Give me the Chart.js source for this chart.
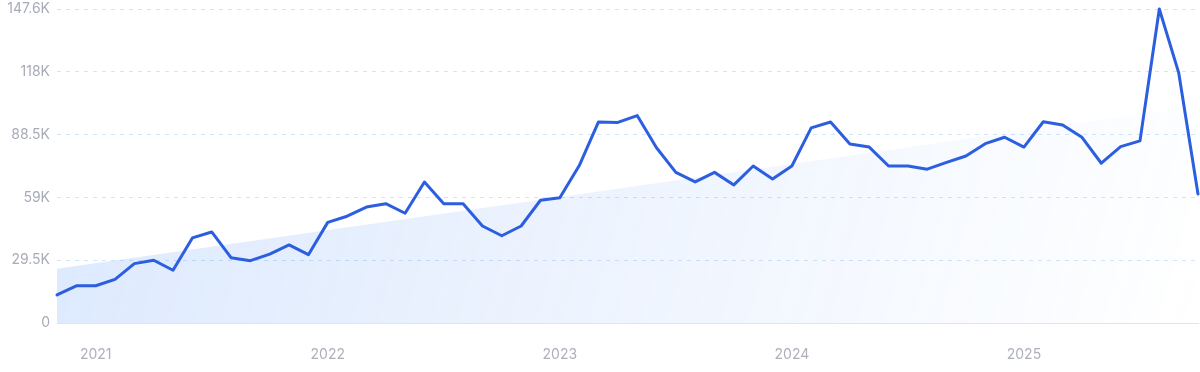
<!DOCTYPE html>
<html>
<head>
<meta charset="utf-8">
<script src="https://cdn.jsdelivr.net/npm/chart.js@4.4.0/dist/chart.umd.min.js"></script>
<style>
    body { margin: 0; background: #fff; }
    #wrap { width: 1200px; height: 372px; position: relative; }
</style>
</head>
<body>
<div id="wrap"><canvas id="trendChart"></canvas></div>
<script>
// --- DATOS ---
const months = [
    '2020-11', '2020-12',
    '2021-01', '2021-02', '2021-03', '2021-04', '2021-05', '2021-06', '2021-07', '2021-08', '2021-09', '2021-10', '2021-11', '2021-12',
    '2022-01', '2022-02', '2022-03', '2022-04', '2022-05', '2022-06', '2022-07', '2022-08', '2022-09', '2022-10', '2022-11', '2022-12',
    '2023-01', '2023-02', '2023-03', '2023-04', '2023-05', '2023-06', '2023-07', '2023-08', '2023-09', '2023-10', '2023-11', '2023-12',
    '2024-01', '2024-02', '2024-03', '2024-04', '2024-05', '2024-06', '2024-07', '2024-08', '2024-09', '2024-10', '2024-11', '2024-12',
    '2025-01', '2025-02', '2025-03', '2025-04', '2025-05', '2025-06', '2025-07', '2025-08', '2025-09', '2025-10'
];

const searches = [
    13200, 17500, 17500, 20500, 27900, 29500, 24800, 40000, 42800, 30700,
    29300, 32400, 36700, 32100, 47300, 50200, 54500, 56100, 51600, 66300,
    56100, 56100, 45600, 41000, 45600, 57700, 58900, 73900, 94500, 94300,
    97500, 82400, 70800, 66300, 70800, 64900, 73800, 67700, 73800, 91700,
    94500, 84100, 82700, 73800, 73800, 72300, 75500, 78500, 84300, 87300,
    82700, 94600, 93100, 87300, 75100, 82900, 85600, 147600, 117700, 60600
];

// linea de tendencia: solo extremos, el resto se une con spanGaps
const trendStart = 25500;
const trendEnd = 102000;

const yTickLabels = ['0', '29.5K', '59K', '88.5K', '118K', '147.6K'];
const yMax = 147600;
const yStep = 29520;

const trendData = months.map((m, i) => {
    if (i === 0) return trendStart;
    if (i === months.length - 1) return trendEnd;
    return null;
});

const FONT = "Inter, 'Noto Sans', sans-serif";

function trendFill(context) {
    const area = context.chart.chartArea;
    if (!area) return 'rgba(59,130,246,0.12)';
    const g = context.chart.ctx.createLinearGradient(area.left, area.top, area.right, area.bottom);
    g.addColorStop(0, 'rgba(59, 130, 246, 0.18)');
    g.addColorStop(0.6, 'rgba(59, 130, 246, 0.07)');
    g.addColorStop(1, 'rgba(59, 130, 246, 0.0)');
    return g;
}

const ctx = document.getElementById('trendChart').getContext('2d');
new Chart(ctx, {
    type: 'line',
    data: {
        labels: months,
        datasets: [
            {
                label: 'Búsquedas',
                data: searches,
                borderColor: '#2c5ee0',
                borderWidth: 3,
                borderJoinStyle: 'round',
                borderCapStyle: 'round',
                tension: 0,
                pointRadius: 0,
                fill: false,
                clip: false,
                order: 0
            },
            {
                label: 'Tendencia',
                data: trendData,
                spanGaps: true,
                borderWidth: 0,
                borderColor: 'rgba(0,0,0,0)',
                backgroundColor: trendFill,
                fill: 'origin',
                pointRadius: 0,
                tension: 0,
                order: 1
            }
        ]
    },
    options: {
        responsive: true,
        maintainAspectRatio: false,
        animation: false,
        layout: { padding: { top: 9, right: 2, left: 0, bottom: 0 } },
        plugins: {
            legend: { display: false },
            tooltip: { enabled: false }
        },
        scales: {
            x: {
                offset: false,
                grid: { display: false, drawTicks: false },
                border: { display: true, color: '#dfe4ee', width: 1 },
                ticks: {
                    autoSkip: false,
                    maxRotation: 0,
                    padding: 23,
                    color: '#adb0bc',
                    font: { family: FONT, size: 14 },
                    callback: function(value, index) {
                        const m = months[index];
                        return m.endsWith('-01') ? m.slice(0, 4) : '';
                    }
                },
                afterFit: scale => {
                    scale.height = 49;
                    scale.paddingLeft = 0;
                    scale.paddingRight = 0;
                }
            },
            y: {
                min: 0,
                max: yMax,
                grid: {
                    color: '#cfe6fa',
                    drawTicks: false,
                    lineWidth: 1
                },
                border: { display: false, dash: [4, 5] },
                ticks: {
                    stepSize: yStep,
                    padding: 7,
                    color: '#a8abb8',
                    font: { family: FONT, size: 14 },
                    callback: (value, index) => yTickLabels[index]
                },
                afterFit: scale => {
                    scale.width = 57;
                    scale.paddingTop = 0;
                    scale.paddingBottom = 0;
                }
            }
        }
    }
});
</script>
</body>
</html>
